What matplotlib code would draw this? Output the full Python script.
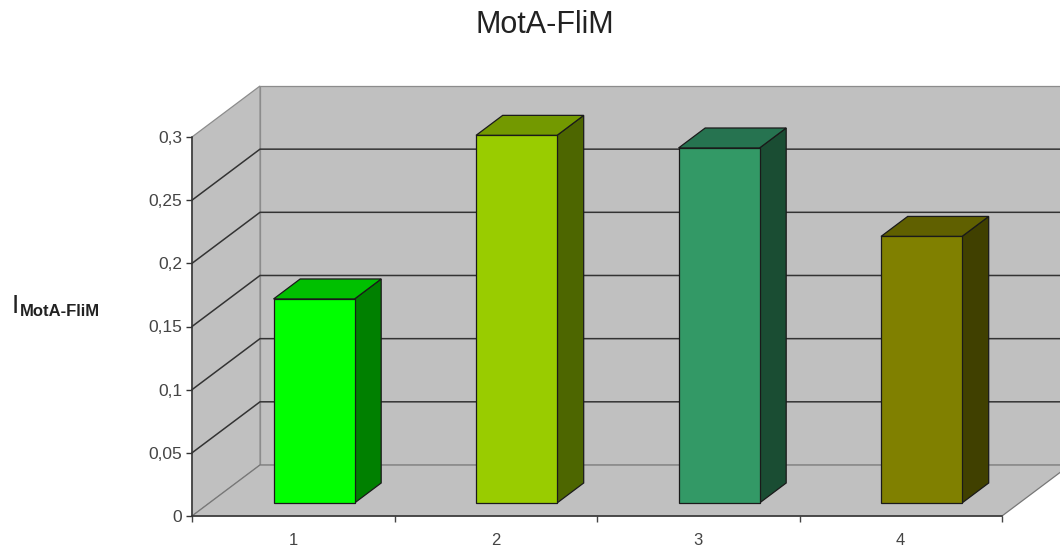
import matplotlib
matplotlib.use('Agg')
import matplotlib.pyplot as plt
from matplotlib.patches import Polygon

plt.rcParams['font.family'] = ['Liberation Sans', 'DejaVu Sans']

categories = ['1', '2', '3', '4']
values = [0.1615, 0.291, 0.281, 0.211]
y_ticks = [0, 0.05, 0.1, 0.15, 0.2, 0.25, 0.3]
y_tick_labels = ['0', '0,05', '0,1', '0,15', '0,2', '0,25', '0,3']
front_colors = ['#00ff00', '#99cc00', '#339966', '#808000']
side_colors = ['#008000', '#4d6600', '#1a4d33', '#404000']
top_colors = ['#00c000', '#739900', '#267350', '#606000']

W, H = 1060, 549
# depth of the 3d box, in data units (68 px across, 51 px up)
DX = 68 / 202.5
DY = 51 / 1263.0
BAR_W = 81 / 202.5
BAR_NEAR = 0.255
BAR_FAR = 0.647


def pt(x, y, d=0.0):
    # oblique projection: d=0 is the front of the box, d=1 the back wall
    return (x + DX * d, y + DY * d)


def face(ax, pts, color, edge='#1a1a1a', lw=0.9, z=3):
    ax.add_patch(Polygon(pts, closed=True, facecolor=color, edgecolor=edge,
                         linewidth=lw, zorder=z, clip_on=False, joinstyle='miter'))


fig = plt.figure(figsize=(W / 100, H / 100), dpi=100)
ax = fig.add_axes([192 / W, (H - 516) / H, 810 / W, 379 / H])
ax.set_xlim(0, 4)
ax.set_ylim(0, 0.3)
ax.patch.set_visible(False)

wall = '#c0c0c0'
top = y_ticks[-1]
# back wall, side wall and floor
face(ax, [pt(0, 0, 1), pt(4, 0, 1), pt(4, top, 1), pt(0, top, 1)], wall, edge='#8c8c8c', z=1)
face(ax, [pt(0, 0), pt(0, 0, 1), pt(0, top, 1), pt(0, top)], wall, edge='#8c8c8c', z=1)
face(ax, [pt(0, 0), pt(4, 0), pt(4, 0, 1), pt(0, 0, 1)], wall, edge='#777777', z=1)

# grid lines run along the side wall and then the back wall
for t in y_ticks[1:-1]:
    xs, ys = zip(pt(0, t), pt(0, t, 1), pt(4, t, 1))
    ax.plot(xs, ys, color='#333333', lw=1.1, zorder=2, clip_on=False)

for i, v in enumerate(values):
    x0 = i + 0.5 - BAR_W / 2 + 0.017
    x1 = x0 + BAR_W
    nd, fd = BAR_NEAR, BAR_FAR
    base = pt(x0, 0, nd)
    ax.bar(base[0], v, width=BAR_W, bottom=base[1], align='edge', color=front_colors[i],
           edgecolor='#1a1a1a', linewidth=0.9, zorder=5, clip_on=False)
    face(ax, [pt(x1, 0, nd), pt(x1, 0, fd), pt(x1, v, fd), pt(x1, v, nd)], side_colors[i], z=4)
    face(ax, [pt(x0, v, nd), pt(x1, v, nd), pt(x1, v, fd), pt(x0, v, fd)], top_colors[i], z=4)

ax.spines['top'].set_visible(False)
ax.spines['right'].set_visible(False)
for s in ['left', 'bottom']:
    ax.spines[s].set_color('#333333')
    ax.spines[s].set_linewidth(1.1)
    ax.spines[s].set_zorder(6)

ax.set_yticks(y_ticks)
ax.set_yticklabels(y_tick_labels)
ax.set_xticks([0, 1, 2, 3, 4])
ax.set_xticklabels([])
ax.set_xticks([0.5, 1.5, 2.5, 3.5], minor=True)
ax.set_xticklabels(categories, minor=True)
ax.tick_params(axis='x', which='minor', length=0, pad=12, labelsize=12, labelcolor='#444444')
ax.tick_params(axis='x', which='major', length=4, width=1, color='#444444', direction='out')
ax.tick_params(axis='y', length=4, width=1, color='#333333', pad=3, labelsize=12.5, labelcolor='#444444')

fig.text(545 / W, 1 - 25 / H, 'MotA-FliM', ha='center', va='center', fontsize=22, color='#222222')
fig.text(12 / W, 1 - 306 / H, 'I', ha='left', va='center', fontsize=19, color='#222222')
fig.text(20 / W, 1 - 311 / H, 'MotA-FliM', ha='left', va='center', fontsize=12,
         fontweight='bold', color='#222222')

plt.savefig('out.png', dpi=100)
